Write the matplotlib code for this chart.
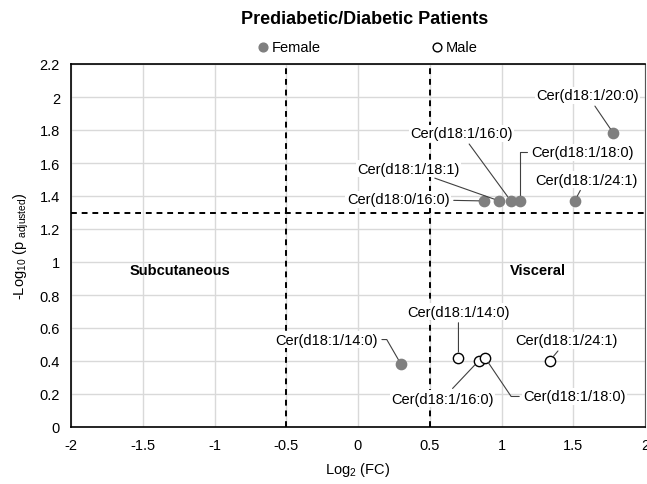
import matplotlib
matplotlib.use("Agg")
import matplotlib.pyplot as plt
from matplotlib.ticker import FuncFormatter, MultipleLocator

plt.rcParams['font.family'] = ['Liberation Sans', 'DejaVu Sans']
plt.rcParams['mathtext.default'] = 'regular'

# Female series
female_labels = ["Cer(d18:1/20:0)", "Cer(d18:0/16:0)", "Cer(d18:1/18:1)",
                 "Cer(d18:1/16:0)", "Cer(d18:1/18:0)", "Cer(d18:1/24:1)",
                 "Cer(d18:1/14:0)"]
female_x = [1.78, 0.88, 0.985, 1.065, 1.13, 1.51, 0.30]
female_y = [1.78, 1.37, 1.37, 1.37, 1.37, 1.37, 0.38]
female_text_x = [1.60, 0.28, 0.35, 0.72, 1.565, 1.59, -0.22]
female_text_y = [2.01, 1.38, 1.565, 1.78, 1.665, 1.50, 0.53]
female_conn = ["arc3", "arc3", "arc3", "arc3",
               "angle,angleA=0,angleB=90,rad=0", "arc3",
               "angle,angleA=0,angleB=-60,rad=0"]

# Male series
male_labels = ["Cer(d18:1/14:0)", "Cer(d18:1/16:0)", "Cer(d18:1/18:0)", "Cer(d18:1/24:1)"]
male_x = [0.70, 0.84, 0.885, 1.335]
male_y = [0.42, 0.40, 0.42, 0.40]
male_text_x = [0.70, 0.59, 1.51, 1.455]
male_text_y = [0.70, 0.17, 0.185, 0.525]
male_conn = ["arc3", "arc3", "angle,angleA=0,angleB=-56,rad=0", "arc3"]

x_ticks = [-2, -1.5, -1, -0.5, 0, 0.5, 1, 1.5, 2]
fc_threshold = [-0.5, 0.5]
p_threshold = 1.3

fig = plt.figure(figsize=(6.47, 4.85), dpi=100)
ax = fig.add_axes([71/647, 1-428/485, 574/647, 363/485])

ax.set_xlim(-2, 2)
ax.set_ylim(0, 2.2)
ax.set_xticks(x_ticks)
ax.yaxis.set_major_locator(MultipleLocator(0.2))
fmt = FuncFormatter(lambda v, p: ('%g' % round(v, 2)))
ax.xaxis.set_major_formatter(fmt)
ax.yaxis.set_major_formatter(fmt)
ax.tick_params(length=0, labelsize=10.5, pad=8, colors='black')
ax.grid(True, color='#d9d9d9', linewidth=1)
ax.set_axisbelow(True)
for s in ['left', 'bottom', 'top']:
    ax.spines[s].set_color('black')
    ax.spines[s].set_linewidth(1.2)
ax.spines['right'].set_color('#555555')

for xv in fc_threshold:
    ax.axvline(xv, color='black', linestyle=(0, (3, 2.5)), linewidth=1.4, zorder=2)
ax.axhline(p_threshold, color='black', linestyle=(0, (3, 2.5)), linewidth=1.4, zorder=2)

grey = '#7f7f7f'
ax.scatter(female_x, female_y, s=55, color=grey, edgecolors=grey, zorder=4, label='Female')
ax.scatter(male_x, male_y, s=55, facecolors='white', edgecolors='black', linewidths=1.0,
           zorder=4, label='Male')

bbox = dict(boxstyle='square,pad=0.1', facecolor='white', edgecolor='none')


def arrow(conn):
    return dict(arrowstyle='-', color='#404040', linewidth=0.8, shrinkA=2, shrinkB=4,
                connectionstyle=conn)


for lab, x, y, tx, ty, c in zip(female_labels, female_x, female_y, female_text_x,
                                female_text_y, female_conn):
    ax.annotate(lab, xy=(x, y), xytext=(tx, ty), ha='center', va='center',
                fontsize=10.5, bbox=bbox, arrowprops=arrow(c), zorder=5)
for lab, x, y, tx, ty, c in zip(male_labels, male_x, male_y, male_text_x, male_text_y,
                                male_conn):
    ax.annotate(lab, xy=(x, y), xytext=(tx, ty), ha='center', va='center',
                fontsize=10.5, bbox=bbox, arrowprops=arrow(c), zorder=5)

ax.text(-1.24, 0.95, 'Subcutaneous', ha='center', va='center', fontsize=10.5, fontweight='bold')
ax.text(1.255, 0.95, 'Visceral', ha='center', va='center', fontsize=10.5, fontweight='bold')

ax.set_xlabel('Log$_2$ (FC)', fontsize=10.5, labelpad=6)
ax.set_ylabel('-Log$_{10}$ (p $_{adjusted}$)', fontsize=10.5, labelpad=6)

leg = ax.legend(ncol=2, loc='lower center', bbox_to_anchor=(0.514, 1.0), frameon=False,
                fontsize=10.5, handletextpad=0.0, columnspacing=7.4, handlelength=1.2,
                borderaxespad=0.3, markerscale=0.85)

fig.text(365/647, 1-19/485, 'Prediabetic/Diabetic Patients', ha='center', va='center',
         fontsize=13, fontweight='bold')

fig.savefig('out.png', dpi=100)
